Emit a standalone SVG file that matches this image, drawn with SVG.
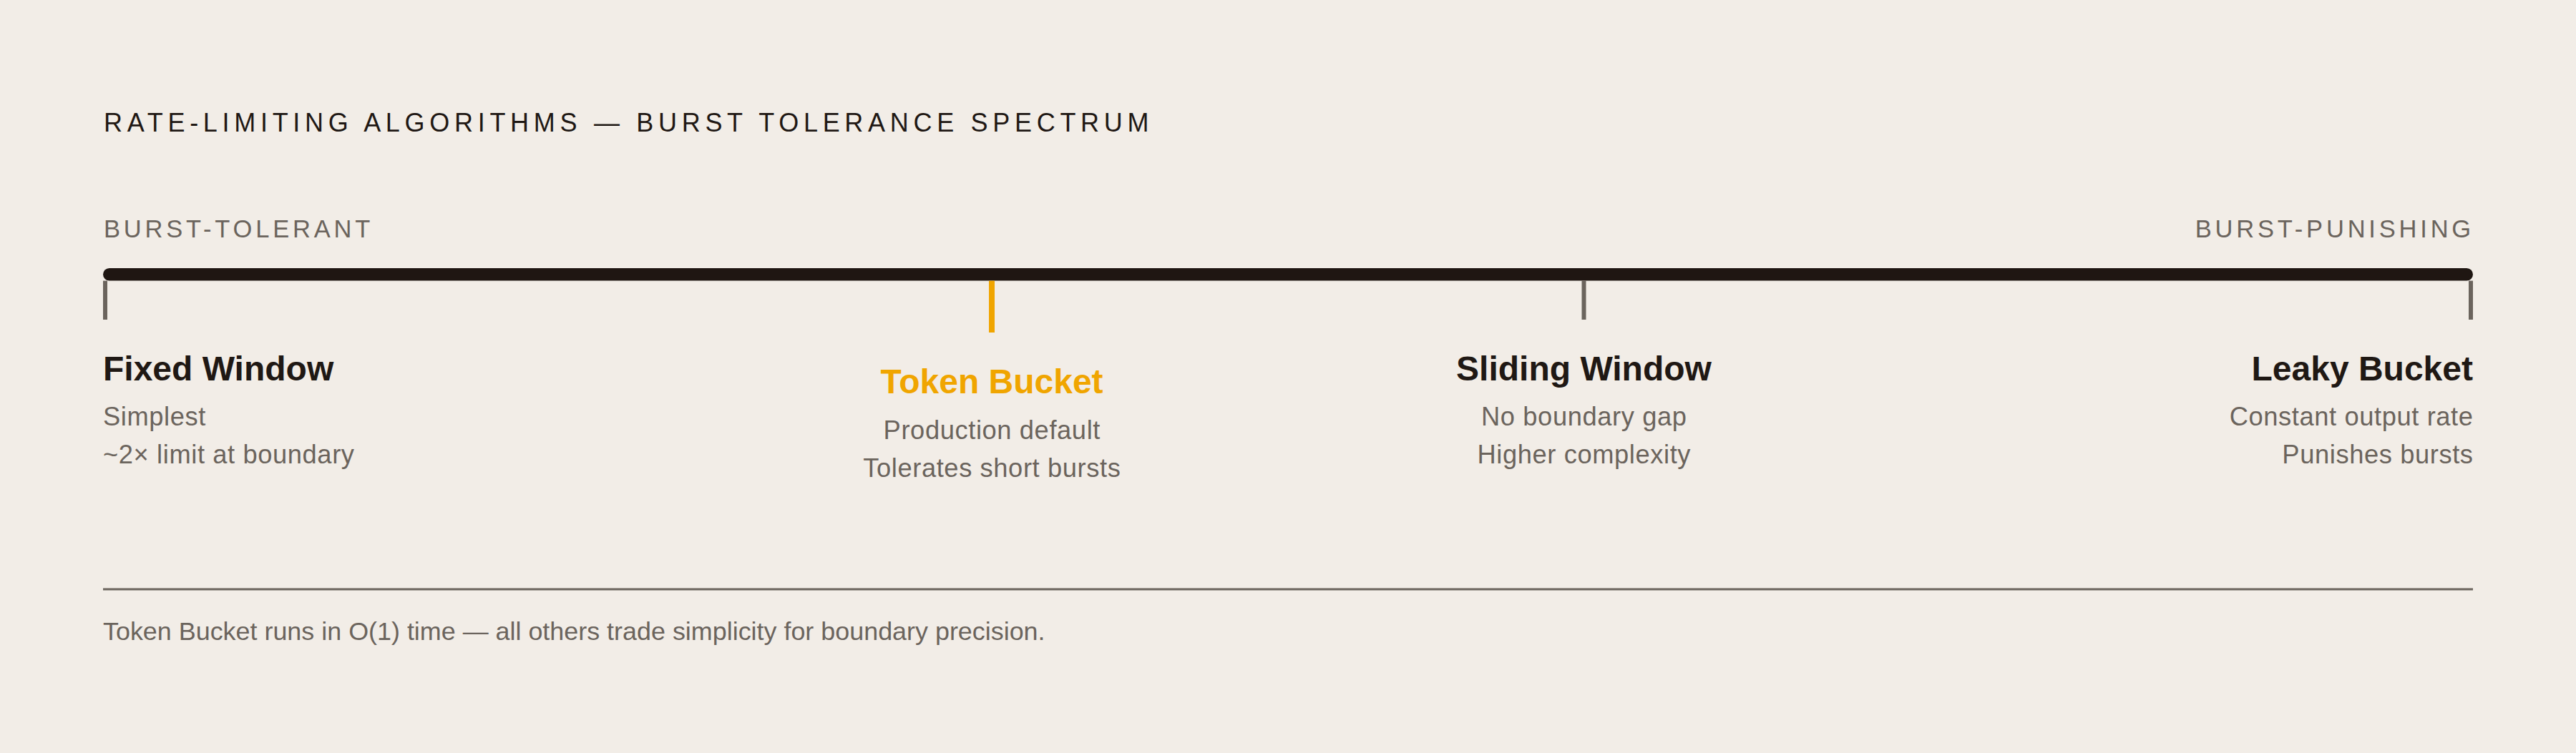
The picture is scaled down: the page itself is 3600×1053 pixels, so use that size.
<svg xmlns="http://www.w3.org/2000/svg" width="3600" height="1053" viewBox="0 0 3600 1053">
  <style>
    text { font-family: "Liberation Sans", Arial, "Helvetica", sans-serif; }
    .title { font-size: 36px; fill: #1f1814; letter-spacing: 6.7px; }
    .side { font-size: 34.5px; fill: #6b645d; letter-spacing: 4.8px; }
    .name { font-size: 48px; font-weight: 700; fill: #1f1814; }
    .name.accent { fill: #f0a500; }
    .desc { font-size: 36.3px; fill: #6b645d; letter-spacing: 0.6px; }
    .foot { font-size: 35.9px; fill: #6b645d; }
    .tick { stroke: #6b645d; stroke-width: 6; }
    .tick.accent { stroke: #f0a500; stroke-width: 8; }
  </style>
  <rect width="3600" height="1053" fill="#f2ede7"/>

  <text class="title" x="145" y="184.3">RATE-LIMITING ALGORITHMS — BURST TOLERANCE SPECTRUM</text>

  <g id="axis">
    <text class="side" x="145" y="332">BURST-TOLERANT</text>
    <text class="side" x="3458" y="332" text-anchor="end">BURST-PUNISHING</text>
    <rect x="144" y="375" width="3312" height="17.6" rx="8.8" fill="#1f1612"/>
  </g>

  <g id="connectors">
    <line class="tick" x1="147" y1="392.6" x2="147" y2="447"/>
    <line class="tick accent" x1="1386" y1="392.6" x2="1386" y2="465"/>
    <line class="tick" x1="2213.5" y1="392.6" x2="2213.5" y2="447"/>
    <line class="tick" x1="3453" y1="392.6" x2="3453" y2="447"/>
  </g>

  <g id="fixed-window">
    <text class="name" x="144" y="531.6">Fixed Window</text>
    <text class="desc" x="144" y="595">Simplest</text>
    <text class="desc" x="144" y="648">~2× limit at boundary</text>
  </g>

  <g id="token-bucket">
    <text class="name accent" x="1386" y="550" text-anchor="middle">Token Bucket</text>
    <text class="desc" x="1386.3" y="614" text-anchor="middle">Production default</text>
    <text class="desc" x="1386.3" y="667" text-anchor="middle">Tolerates short bursts</text>
  </g>

  <g id="sliding-window">
    <text class="name" x="2213.5" y="531.6" text-anchor="middle">Sliding Window</text>
    <text class="desc" x="2213.8" y="595" text-anchor="middle">No boundary gap</text>
    <text class="desc" x="2213.8" y="648" text-anchor="middle">Higher complexity</text>
  </g>

  <g id="leaky-bucket">
    <text class="name" x="3456" y="531.6" text-anchor="end">Leaky Bucket</text>
    <text class="desc" x="3456.6" y="595" text-anchor="end">Constant output rate</text>
    <text class="desc" x="3456.6" y="648" text-anchor="end">Punishes bursts</text>
  </g>

  <g id="footer">
    <line x1="144" y1="824" x2="3456" y2="824" stroke="#6b645d" stroke-width="3"/>
    <text class="foot" x="144" y="895">Token Bucket runs in O(1) time — all others trade simplicity for boundary precision.</text>
  </g>
</svg>
